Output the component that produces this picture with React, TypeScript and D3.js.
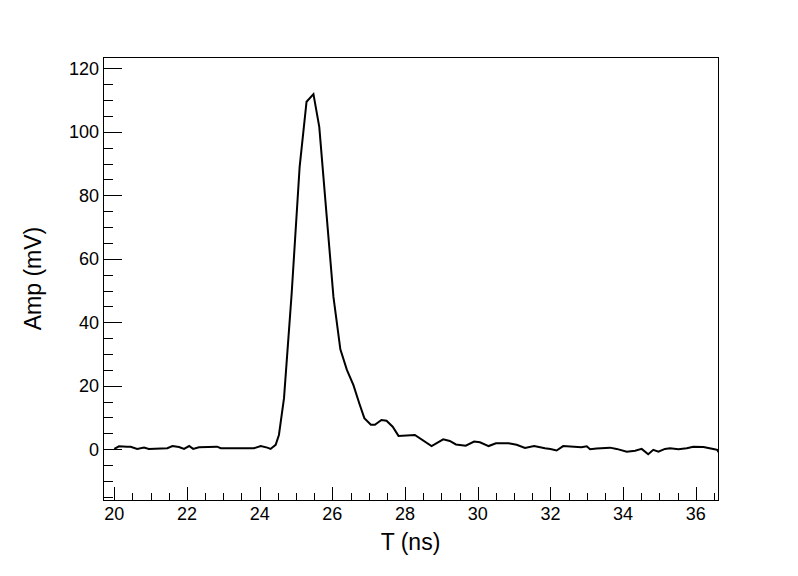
import { useEffect, useRef } from "react";
import * as d3 from "d3";

// waveform vertices
const timeNs = [
  20.0, 20.13, 20.35, 20.45, 20.63, 20.82, 20.95, 21.46, 21.6, 21.78, 21.92, 22.06, 22.17, 22.33,
  22.83, 22.93, 23.84, 24.03, 24.21, 24.3, 24.44, 24.53, 24.67, 24.88, 25.1, 25.29, 25.48, 25.64,
  25.84, 26.03, 26.22, 26.4, 26.58, 26.74, 26.88, 27.06, 27.17, 27.35, 27.49, 27.66, 27.82, 28.27,
  28.73, 29.05, 29.23, 29.4, 29.67, 29.9, 30.06, 30.3, 30.5, 30.85, 31.07, 31.3, 31.55, 31.85,
  32.0, 32.17, 32.35, 32.85, 33.0, 33.09, 33.27, 33.64, 33.82, 34.1, 34.33, 34.51, 34.69, 34.83,
  34.97, 35.15, 35.29, 35.52, 35.75, 35.93, 36.21, 36.48, 36.59, 36.66,
];
const ampMv = [
  0.1, 0.9, 0.8, 0.8, 0.1, 0.5, 0.1, 0.3, 1.0, 0.7, 0.1, 1.0, 0.1, 0.6,
  0.8, 0.3, 0.3, 1.0, 0.5, 0.1, 1.4, 4.5, 16.1, 49, 89, 109.5, 111.9, 101.6,
  74, 48, 31.5, 25, 20.2, 14.5, 9.8, 7.7, 7.7, 9.2, 9.0, 7.1, 4.2, 4.5,
  1.0, 3.1, 2.6, 1.5, 1.1, 2.4, 2.2, 1.0, 1.9, 1.9, 1.4, 0.4, 1.0, 0.3,
  0.1, -0.4, 1.0, 0.6, 0.9, 0.0, 0.2, 0.5, 0.1, -0.8, -0.5, 0.1, -1.6, -0.2,
  -0.8, 0.1, 0.3, 0.0, 0.3, 0.8, 0.7, 0.1, -0.2, -1.5,
];

const xDomain = [19.69, 36.61];
const yDomain = [-16, 123.6];
const xMajor = [20, 22, 24, 26, 28, 30, 32, 34, 36];
const yMajor = [0, 20, 40, 60, 80, 100, 120];
const xTitle = "T (ns)";
const yTitle = "Amp (mV)";

const W = 798;
const H = 576;
const FONT = "'Liberation Sans', Arial, Helvetica, sans-serif";

export default function App() {
  const ref = useRef<SVGSVGElement>(null);

  useEffect(() => {
    const svg = d3.select(ref.current);
    svg.selectAll("*").remove();

    const left = 103, right = 718, top = 57, bottom = 500;
    const x = d3.scaleLinear().domain(xDomain).range([left, right]);
    const y = d3.scaleLinear().domain(yDomain).range([bottom, top]);

    svg.append("rect").attr("width", W).attr("height", H).attr("fill", "white");

    svg.append("clipPath").attr("id", "frame-clip")
      .append("rect")
      .attr("x", left).attr("y", top)
      .attr("width", right - left).attr("height", bottom - top);

    // trace
    const pts = timeNs.map((t, i) => [t, ampMv[i]] as [number, number]);
    const line = d3.line<[number, number]>().x((d) => x(d[0])).y((d) => y(d[1]));
    svg.append("path")
      .datum(pts)
      .attr("clip-path", "url(#frame-clip)")
      .attr("fill", "none")
      .attr("stroke", "black")
      .attr("stroke-width", 2)
      .attr("stroke-linejoin", "miter")
      .attr("d", line);

    // frame
    svg.append("rect")
      .attr("x", left + 0.5).attr("y", top + 0.5)
      .attr("width", right - left).attr("height", bottom - top)
      .attr("fill", "none").attr("stroke", "black").attr("stroke-width", 1);

    // x ticks (ROOT style: inward, no labels on minors)
    const xMinor = d3.range(Math.ceil(xDomain[0] * 2) / 2, xDomain[1], 0.5)
      .filter((v) => !xMajor.includes(v));
    const gx = svg.append("g").attr("stroke", "black").attr("stroke-width", 1);
    gx.selectAll("line.maj").data(xMajor).join("line")
      .attr("x1", (d) => Math.round(x(d)) + 0.5).attr("x2", (d) => Math.round(x(d)) + 0.5)
      .attr("y1", bottom).attr("y2", bottom - 13);
    gx.selectAll("line.min").data(xMinor).join("line")
      .attr("x1", (d) => Math.round(x(d)) + 0.5).attr("x2", (d) => Math.round(x(d)) + 0.5)
      .attr("y1", bottom).attr("y2", bottom - 7);

    svg.append("g").selectAll("text").data(xMajor).join("text")
      .attr("x", (d) => x(d)).attr("y", 520)
      .attr("text-anchor", "middle")
      .attr("font-family", FONT).attr("font-size", 18)
      .text((d) => d);

    // y ticks
    const yMinor = d3.range(Math.ceil(yDomain[0] / 5) * 5, yDomain[1], 5)
      .filter((v) => !yMajor.includes(v));
    const gy = svg.append("g").attr("stroke", "black").attr("stroke-width", 1);
    gy.selectAll("line.maj").data(yMajor).join("line")
      .attr("y1", (d) => Math.round(y(d)) + 0.5).attr("y2", (d) => Math.round(y(d)) + 0.5)
      .attr("x1", left).attr("x2", left + 19);
    gy.selectAll("line.min").data(yMinor).join("line")
      .attr("y1", (d) => Math.round(y(d)) + 0.5).attr("y2", (d) => Math.round(y(d)) + 0.5)
      .attr("x1", left).attr("x2", left + 10);

    svg.append("g").selectAll("text").data(yMajor).join("text")
      .attr("x", 99).attr("y", (d) => y(d))
      .attr("dy", "0.35em")
      .attr("text-anchor", "end")
      .attr("font-family", FONT).attr("font-size", 18)
      .text((d) => d);

    // axis titles
    svg.append("text")
      .attr("x", (left + right) / 2).attr("y", 550)
      .attr("text-anchor", "middle")
      .attr("font-family", FONT).attr("font-size", 23)
      .text(xTitle);

    svg.append("text")
      .attr("transform", `translate(41,${(top + bottom) / 2}) rotate(-90)`)
      .attr("text-anchor", "middle")
      .attr("font-family", FONT).attr("font-size", 23)
      .text(yTitle);
  }, []);

  return (
    <svg
      ref={ref}
      width={W}
      height={H}
      style={{ position: "absolute", left: 0, top: 0, display: "block" }}
    />
  );
}
